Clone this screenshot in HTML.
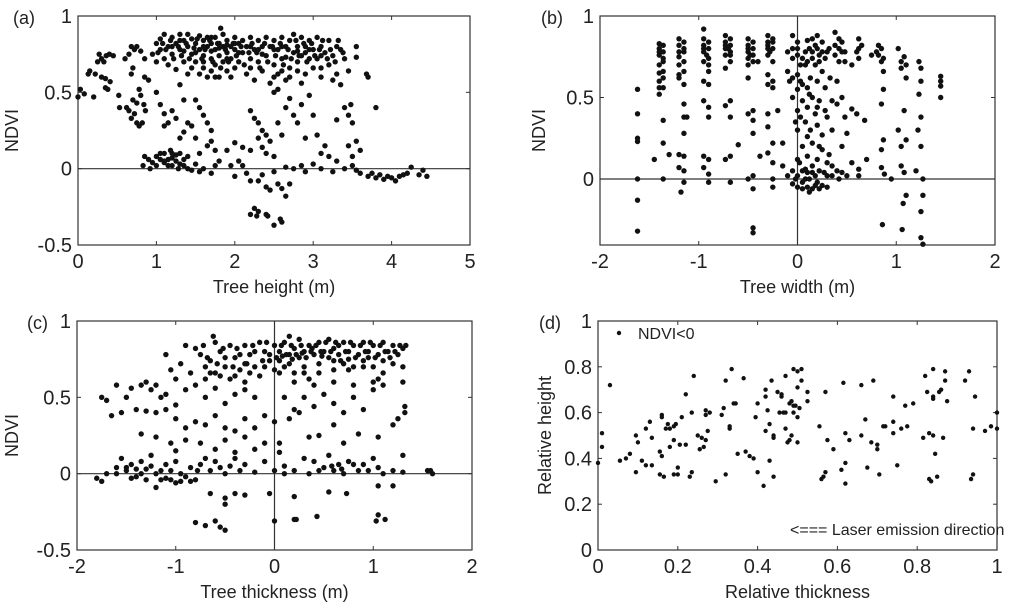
<!DOCTYPE html>
<html><head><meta charset="utf-8"><style>
html,body{margin:0;padding:0;background:#fff;}
svg{display:block;font-family:"Liberation Sans",Arial,sans-serif;}
</style></head><body>
<svg id="fig" width="1024" height="614" viewBox="0 0 1024 614" xmlns="http://www.w3.org/2000/svg"></svg>
<script>
// ---- Panel (a): tree height vs NDVI ----
const ptsA = [[0,0.47],[0.03,0.52],[0.08,0.49],[0.2,0.47],[0.13,0.62],[0.15,0.64],[0.22,0.62],[0.25,0.7],[0.27,0.75],[0.3,0.72],[0.33,0.7],[0.36,0.74],[0.4,0.75],[0.45,0.74],[0.35,0.53],[0.38,0.52],[0.3,0.6],[0.35,0.59],[0.41,0.57],[0.52,0.48],[0.53,0.4],[0.6,0.72],[0.65,0.75],[0.68,0.8],[0.72,0.78],[0.75,0.8],[0.8,0.77],[0.85,0.72],[0.7,0.66],[0.68,0.62],[0.62,0.4],[0.65,0.38],[0.68,0.33],[0.72,0.36],[0.75,0.3],[0.78,0.28],[0.82,0.3],[0.7,0.45],[0.75,0.43],[0.8,0.48],[0.85,0.6],[0.9,0.58],[0.78,0.52],[0.84,0.42],[0.86,0.38],
[0.95,0.75],[1.0,0.7],[1.0,0.82],[1.05,0.85],[1.05,0.78],[1.1,0.88],[1.1,0.72],[1.15,0.8],[1.15,0.68],[1.2,0.86],[1.2,0.75],[1.25,0.82],[1.25,0.65],[1.3,0.88],[1.3,0.78],[1.35,0.7],[1.35,0.84],[1.4,0.8],[1.4,0.88],[1.45,0.75],[1.45,0.85],[1.5,0.82],[1.5,0.7],[1.55,0.87],[1.55,0.78],[1.6,0.84],[1.6,0.66],[1.6,0.74],[1.65,0.8],[1.65,0.6],[1.65,0.86],[1.7,0.72],[1.7,0.82],[1.7,0.64],[1.75,0.78],[1.75,0.86],[1.75,0.68],[1.8,0.82],[1.8,0.6],[1.8,0.74],[1.85,0.88],[1.85,0.7],[1.85,0.8],[1.9,0.76],[1.9,0.84],[1.9,0.64],[1.95,0.8],[1.95,0.72],[2.0,0.86],[2.0,0.78],[2.0,0.66],[2.05,0.82],[2.05,0.7],[2.1,0.76],[2.1,0.84],[2.15,0.8],[2.15,0.62],[2.2,0.86],[2.2,0.72],[2.25,0.78],[2.25,0.58],[2.3,0.84],[2.3,0.7],[2.35,0.8],[2.35,0.64],[2.4,0.86],[2.4,0.74],[2.45,0.8],[2.45,0.56],[2.5,0.84],[2.5,0.68],[2.55,0.78],[2.55,0.62],[2.6,0.86],[2.6,0.72],[2.65,0.8],[2.65,0.58],[2.7,0.84],[2.7,0.66],[2.75,0.76],[2.75,0.88],[2.8,0.8],[2.8,0.7],[2.85,0.86],[2.85,0.74],[2.9,0.8],[2.9,0.62],[2.95,0.84],[2.95,0.72],[3.0,0.78],[3.0,0.66],[3.05,0.86],[3.05,0.72],[3.1,0.8],[3.1,0.6],[3.15,0.76],[3.2,0.84],[3.2,0.68],[3.25,0.74],[3.3,0.8],[3.3,0.62],[3.35,0.78],[3.4,0.72],[3.25,0.58],[3.35,0.55],[3.55,0.8],[3.55,0.73],[3.45,0.64],[3.7,0.6],[3.68,0.62],[3.8,0.4],
[1.2,0.8],[1.35,0.77],[1.5,0.76],[1.6,0.8],[1.7,0.77],[1.8,0.79],[1.9,0.81],[2.05,0.76],[2.2,0.8],[2.35,0.75],[2.5,0.78],[2.65,0.73],[2.8,0.77],[2.95,0.78],[3.1,0.74],[1.45,0.66],[1.55,0.62],[1.75,0.6],[1.95,0.6],[2.6,0.64],[2.7,0.6],[2.85,0.56],[2.55,0.52],[2.5,0.5],
[1.0,0.5],[1.05,0.42],[1.1,0.36],[1.15,0.3],[1.1,0.28],[1.2,0.38],[1.25,0.33],[1.3,0.2],[1.35,0.24],[1.3,0.55],[1.35,0.45],[1.4,0.3],[1.45,0.28],[1.5,0.45],[1.55,0.4],[1.6,0.35],[1.65,0.3],[1.7,0.25],[1.75,0.12],[1.7,0.18],[1.2,0.1],[1.5,0.2],[1.55,0.1],[1.65,0.15],[1.9,0.12],[2.0,0.17],[2.05,0.05],[2.1,0.14],[2.2,0.38],[2.25,0.33],[2.3,0.3],[2.35,0.25],[2.2,0.12],[2.3,0.2],[2.35,0.14],[2.4,0.1],[2.45,0.18],[2.4,0.22],[2.5,0.08],[2.55,0.3],[2.6,0.22],[2.65,0.4],[2.7,0.46],[2.75,0.35],[2.8,0.3],[2.85,0.42],[2.9,0.2],[2.95,0.48],[3.0,0.35],[3.05,0.22],[3.1,0.1],[3.15,0.15],[3.2,0.08],[3.3,0.05],[3.4,0.4],[3.45,0.35],[3.5,0.3],[3.45,0.15],[3.5,0.08],[3.55,0.18],[3.6,0.12],[3.48,0.42],[3.3,0.32],
[0.83,0.02],[0.85,0.08],[0.9,0.06],[0.95,0.04],[1.0,0.08],[1.0,0.02],[1.05,0.06],[1.1,0.04],[1.1,0.1],[1.15,0.06],[1.2,0.02],[1.2,0.07],[1.25,0.05],[1.3,0.1],[1.3,0.03],[1.35,0.06],[1.4,0.0],[1.4,0.08],[1.45,-0.01],[1.5,0.03],[1.55,-0.02],[1.6,0.0],[1.7,-0.03],[1.75,0.02],[1.8,0.05],[1.95,0.02],[2.0,-0.05],[2.1,0.02],[2.15,-0.03],[2.2,-0.08],[2.3,-0.08],[2.35,-0.04],[2.4,-0.12],[2.45,-0.14],[2.5,-0.02],[2.55,-0.1],[2.6,-0.13],[2.65,-0.18],[2.7,-0.1],[2.65,0.01],[2.75,0.0],[2.85,0.02],[2.9,-0.02],[3.0,0.03],[3.1,0.0],[3.25,-0.02],[3.4,0.0],[3.5,0.02],[3.55,-0.01],[3.6,-0.03],[3.7,-0.05],[3.75,-0.03],[3.8,-0.06],[3.9,-0.07],[3.95,-0.05],[4.05,-0.08],[4.1,-0.05],[4.15,-0.04],[4.2,-0.03],[4.25,0.01],[4.35,-0.04],[4.4,-0.01],[4.45,-0.05],[3.85,-0.04],[4.0,-0.06],
[2.2,-0.3],[2.25,-0.26],[2.28,-0.31],[2.3,-0.28],[2.4,-0.3],[2.42,-0.31],[2.5,-0.37],[2.58,-0.33],[2.6,-0.35],[1.82,0.92]];
const ptsA2 = [[1.02,0.76],[1.08,0.82],[1.12,0.78],[1.18,0.84],[1.22,0.72],[1.28,0.8],[1.32,0.74],[1.38,0.82],[1.42,0.72],[1.48,0.79],[1.52,0.85],[1.58,0.72],[1.62,0.78],[1.68,0.84],[1.72,0.7],[1.78,0.82],[1.82,0.66],[1.88,0.78],[1.92,0.7],[1.98,0.82],[2.02,0.74],[2.08,0.8],[2.12,0.68],[2.18,0.76],[2.22,0.82],[2.28,0.76],[2.32,0.66],[2.38,0.82],[2.42,0.7],[2.48,0.8],[2.52,0.74],[2.58,0.82],[2.62,0.68],[2.68,0.78],[2.72,0.72],[2.78,0.84],[2.82,0.74],[2.88,0.82],[2.92,0.7],[2.98,0.82],[3.02,0.74],[3.08,0.78],[3.12,0.84],[3.18,0.72],[3.22,0.78],[3.28,0.7],[3.32,0.84],[3.38,0.76],[1.3,0.84],[1.6,0.7],[1.9,0.72],[2.2,0.66],[2.5,0.6],[2.8,0.64],[3.1,0.66],[1.4,0.62],[1.7,0.86],[2.0,0.82],[2.3,0.78],[2.6,0.8],[2.9,0.76],[1.1,0.05],[1.15,0.02],[1.25,0.09],[1.35,0.02],[1.05,0.1],[0.92,0.0],[1.28,0.0],[1.18,0.12]];

// ---- Panel (b): tree width vs NDVI ----
const ptsB = [[-1.62,0.55],[-1.62,0.4],[-1.62,0.25],[-1.62,0.23],[-1.62,0.0],[-1.62,-0.13],[-1.62,-0.32],
[-1.4,0.83],[-1.4,0.8],[-1.4,0.76],[-1.4,0.7],[-1.4,0.65],[-1.4,0.6],[-1.4,0.56],[-1.4,0.52],
[-1.36,0.82],[-1.36,0.78],[-1.36,0.72],[-1.36,0.66],[-1.36,0.62],[-1.36,0.56],[-1.36,0.36],[-1.36,0.22],[-1.36,0.0],[-1.45,0.12],[-1.3,0.15],
[-1.2,0.86],[-1.2,0.82],[-1.2,0.75],[-1.2,0.7],[-1.2,0.64],[-1.2,0.62],[-1.2,0.15],[-1.2,0.07],
[-1.15,0.84],[-1.15,0.78],[-1.15,0.72],[-1.15,0.66],[-1.15,0.58],[-1.15,0.46],[-1.15,0.38],[-1.15,0.28],[-1.15,0.14],[-1.15,0.05],[-1.15,-0.02],[-1.18,-0.08],[-1.12,0.38],
[-0.95,0.92],[-0.95,0.86],[-0.95,0.82],[-0.95,0.78],[-0.95,0.72],[-0.95,0.6],[-0.95,0.48],[-0.95,0.14],[-0.95,0.07],
[-0.9,0.84],[-0.9,0.8],[-0.9,0.74],[-0.9,0.66],[-0.9,0.58],[-0.9,0.44],[-0.9,0.38],[-0.9,0.12],[-0.9,0.03],[-0.9,-0.02],
[-0.73,0.88],[-0.73,0.84],[-0.73,0.8],[-0.73,0.76],[-0.73,0.68],[-0.73,0.45],[-0.73,0.12],
[-0.68,0.86],[-0.68,0.82],[-0.68,0.78],[-0.68,0.72],[-0.68,0.48],[-0.68,0.38],[-0.68,0.14],[-0.68,-0.02],
[-0.5,0.86],[-0.5,0.82],[-0.5,0.78],[-0.5,0.74],[-0.5,0.7],[-0.5,0.62],[-0.5,0.4],[-0.5,0.0],
[-0.45,0.84],[-0.45,0.8],[-0.45,0.72],[-0.45,0.42],[-0.45,0.36],[-0.45,0.28],[-0.45,0.02],[-0.45,-0.06],[-0.45,-0.3],[-0.45,-0.33],
[-0.3,0.88],[-0.3,0.84],[-0.3,0.8],[-0.3,0.76],[-0.3,0.64],[-0.3,0.58],[-0.3,0.4],[-0.3,0.32],[-0.3,0.16],
[-0.25,0.86],[-0.25,0.8],[-0.25,0.72],[-0.25,0.6],[-0.25,0.56],[-0.25,0.22],[-0.25,0.1],[-0.25,0.0],[-0.25,-0.05],
[-0.6,0.21],[-0.4,0.72],[-0.38,0.14],[-0.15,0.22],[-0.2,0.42],
[-0.1,0.78],[-0.1,0.66],[-0.08,0.6],[-0.05,0.88],[-0.05,0.74],[-0.05,0.5],[-0.05,0.05],[-0.05,-0.03],[0,0.84],[0,0.76],[0,0.64],[0,0.55],[0,0.42],[0,0.3],[0,0.12],[0,-0.05],[0.03,0.7],[0.03,0.6],[0.03,0.38],[0.05,0.48],[0.05,0.2],[0.05,0.05],[0.05,-0.02],[0.08,0.78],[0.08,0.35],[0.08,0.0],[0.1,0.85],[0.1,0.72],[0.1,0.56],[0.1,0.44],[0.1,0.14],[0.1,0.04],[0.1,-0.05],[0.13,0.62],[0.13,0.3],[0.15,0.86],[0.15,0.78],[0.15,0.5],[0.15,0.22],[0.15,0.08],[0.15,-0.06],[0.18,0.7],[0.18,0.4],[0.18,0.02],[0.2,0.88],[0.2,0.8],[0.2,0.6],[0.2,0.33],[0.2,0.12],[0.2,-0.02],[0.22,0.76],[0.22,0.48],[0.22,0.05],[0.25,0.84],[0.25,0.66],[0.25,0.27],[0.25,0.18],[0.25,-0.04],[0.28,0.56],[0.28,0.42],[0.3,0.78],[0.3,0.1],[0.3,0.02],[0.33,0.62],[0.35,0.48],[0.35,0.3],[0.38,0.9],[0.38,0.76],[0.4,0.6],[0.4,0.05],[0.42,0.86],[0.42,0.8],[0.42,0.72],[0.45,0.84],[0.45,0.5],[0.45,0.2],[0.45,0.04],[0.48,0.78],[0.48,0.38],[0.5,0.02],[0.55,0.43],[0.6,0.4],[0.62,0.86],[0.62,0.8],[0.62,0.74],[0.62,0.06],[0.62,0.02],[0.68,0.36],[0.7,0.12],[0.75,0.76],[0.55,0.7],[0.5,0.28],[0.55,0.1],[-0.02,0.0],[0.12,-0.08],[0.3,-0.05],[0.35,0.08],
[0.82,0.82],[0.82,0.76],[0.85,0.8],[0.85,0.72],[0.87,0.66],[0.87,0.55],[0.85,0.46],[0.87,0.24],[0.85,0.18],[0.85,0.07],[0.88,0.03],[0.86,-0.28],[0.95,0.0],
[1.02,0.8],[1.05,0.72],[1.05,0.68],[1.08,0.75],[1.1,0.62],[1.08,0.42],[1.02,0.3],[1.05,0.2],[1.1,0.24],[1.05,0.08],[1.08,0.04],[1.1,-0.1],[1.07,-0.15],[1.06,-0.31],
[1.23,0.72],[1.25,0.68],[1.25,0.6],[1.23,0.52],[1.25,0.38],[1.22,0.3],[1.25,0.2],[1.2,0.05],[1.27,0.0],[1.27,-0.1],[1.25,-0.2],[1.25,-0.36],[1.27,-0.4],
[1.45,0.63],[1.45,0.6],[1.45,0.57],[1.45,0.5]];
const ptsB2 = [[-1.4,0.78],[-1.36,0.74],[-1.2,0.78],[-1.15,0.8],[-0.95,0.8],[-0.92,0.76],[-0.9,0.7],[-0.73,0.82],[-0.7,0.8],[-0.68,0.76],[-0.5,0.8],[-0.48,0.76],[-0.45,0.76],[-0.3,0.82],[-0.28,0.78],[-0.25,0.84],[-0.05,0.8],[0.0,0.8],[0.05,0.74],[0.08,0.7],[0.12,0.8],[0.15,0.74],[0.18,0.82],[0.22,0.72],[0.25,0.78],[0.28,0.74],[0.32,0.8],[0.38,0.82],[0.45,0.78],[0.48,0.72],[0.6,0.78],[0.65,0.82],[0.8,0.78],[0.87,0.74],[1.1,0.7],[-0.05,0.62],[0.05,0.58],[0.12,0.52],[0.2,0.44],[0.3,0.38],[0.4,0.46],[-0.02,0.35],[0.1,0.26],[0.22,0.2],[0.32,0.15],[0.02,0.1],[0.08,0.06],[0.12,0.0],[0.18,-0.04],[0.22,-0.06],[0.27,0.04],[0.05,-0.06],[0.0,0.02],[0.15,0.04],[0.35,0.02],[0.42,0.0],[-0.1,0.02],[-0.15,0.08]];

// ---- Panel (c): tree thickness vs NDVI ----
const ptsC = [[-0.8,0.82],[-0.75,0.78],[-0.7,0.7],[-0.65,0.74],[-0.6,0.86],[-0.6,0.66],[-0.55,0.8],[-0.5,0.7],[-0.45,0.84],[-0.45,0.62],[-0.4,0.76],[-0.35,0.68],[-0.3,0.84],[-0.3,0.6],[-0.25,0.78],[-0.2,0.7],[-0.15,0.86],[-0.15,0.64],[-0.1,0.8],[-0.05,0.74],[0,0.84],[0,0.68],[0.05,0.8],[0.05,0.74],[0.1,0.86],[0.1,0.7],[0.15,0.9],[0.15,0.78],[0.2,0.82],[0.2,0.66],[0.25,0.76],[0.25,0.88],[0.3,0.8],[0.3,0.7],[0.35,0.84],[0.35,0.62],[0.4,0.78],[0.45,0.86],[0.45,0.72],[0.5,0.8],[0.55,0.76],[0.55,0.88],[0.6,0.82],[0.6,0.68],[0.65,0.78],[0.7,0.86],[0.7,0.72],[0.75,0.8],[0.8,0.84],[0.8,0.7],[0.85,0.78],[0.9,0.86],[0.9,0.74],[0.95,0.8],[1.0,0.84],[1.0,0.7],[1.05,0.78],[1.1,0.86],[1.1,0.74],[1.15,0.8],[1.2,0.84],[1.2,0.72],[1.25,0.78],[1.3,0.82],[1.33,0.84],[1.3,0.7],[-0.05,0.78],[0.08,0.77],[0.18,0.75],[0.28,0.79],[0.38,0.82],[0.48,0.77],[0.65,0.84],[0.75,0.75],[0.95,0.76],[-0.2,0.8],[-0.35,0.78],[-0.5,0.76],[-0.65,0.66],[-0.9,0.84],[-0.95,0.72],[-1.1,0.78],[-1.05,0.68],[-0.62,0.9],[1.3,0.6],[1.32,0.44],[1.32,0.4],[1.25,0.36],[1.2,0.32],[1.1,0.66],[1.05,0.62],
[-1.75,0.5],[-1.7,0.48],[-1.65,0.38],[-1.6,0.58],[-1.55,0.4],[-1.5,0.5],[-1.45,0.56],[-1.4,0.42],[-1.35,0.58],[-1.3,0.6],[-1.25,0.55],[-1.2,0.58],[-1.15,0.5],[-1.1,0.52],[-1.0,0.62],[-1.0,0.45],[-0.9,0.55],[-0.8,0.58],[-0.7,0.5],[-0.6,0.56],[-0.5,0.46],[-0.4,0.52],[-0.3,0.55],[-0.2,0.5],[-1.3,0.41],[-1.2,0.4],[-1.1,0.42],[-1.0,0.36],[-0.9,0.3],[-0.8,0.34],[-0.7,0.32],[-0.6,0.38],[-0.5,0.3],[-0.4,0.28],[-0.3,0.36],[-0.2,0.3],[-0.1,0.38],[0,0.34],[-1.35,0.26],[-1.2,0.24],[-1.05,0.2],[-1.0,0.15],[-0.9,0.22],[-0.75,0.2],[-0.6,0.16],[-0.5,0.22],[-0.4,0.14],[-0.3,0.24],[-0.2,0.16],[-0.1,0.2],[0.1,0.5],[0.2,0.42],[0.3,0.5],[0.4,0.44],[0.5,0.52],[0.6,0.46],[0.7,0.4],[0.8,0.5],[0.9,0.42],[1.0,0.55],[1.1,0.58],[0.15,0.36],[0.25,0.4],[0.35,0.24],[0.45,0.25],[0.6,0.32],[0.7,0.2],[0.85,0.26],[1.05,0.24],[0.05,0.2],[0.2,0.6],[0.4,0.58],[0.6,0.6],[0.8,0.58],[1.0,0.6],
[-1.8,-0.03],[-1.75,-0.05],[-1.7,0.0],[-1.6,0.04],[-1.55,0.1],[-1.5,0.02],[-1.45,0.06],[-1.4,-0.02],[-1.35,0.08],[-1.3,0.03],[-1.25,0.12],[-1.2,0.0],[-1.15,-0.04],[-1.1,0.06],[-1.1,-0.03],[-1.05,0.02],[-1.0,-0.06],[-0.95,-0.05],[-0.9,-0.02],[-0.85,0.04],[-0.8,-0.04],[-0.75,0.06],[-0.7,0.1],[-0.65,0.02],[-0.6,0.08],[-0.55,0.04],[-0.5,0.0],[-0.45,0.05],[-0.4,0.1],[-0.35,0.02],[-0.3,0.06],[-0.2,0.01],[-0.1,0.08],[0,0.02],[0.05,0.14],[0.1,0.0],[0.1,0.05],[0.2,0.02],[0.3,0.1],[0.35,0.0],[0.4,0.08],[0.5,0.04],[0.55,0.12],[0.6,0.02],[0.65,0.06],[0.7,0.0],[0.75,0.08],[0.85,0.02],[0.9,0.06],[1.0,0.1],[1.05,0.04],[1.1,0.0],[1.2,0.02],[1.3,0.01],[1.3,0.12],[1.55,0.02],[1.58,0.02],[1.6,0.0],[-1.2,-0.09],[-1.6,0.0],[-1.45,-0.03],[-1.0,0.08],
[-0.65,-0.13],[-0.5,-0.16],[-0.5,-0.2],[-0.4,-0.13],[-0.3,-0.14],[-0.05,-0.13],[0.2,-0.15],[0.55,-0.12],[0.73,-0.13],[1.05,-0.08],[1.2,-0.08],[-0.8,-0.32],[-0.7,-0.34],[-0.6,-0.31],[-0.55,-0.35],[-0.5,-0.37],[0,-0.31],[0.2,-0.3],[0.22,-0.3],[0.43,-0.28],[1.03,-0.31],[1.05,-0.27],[1.12,-0.3]];
const ptsC2 = [[-0.72,0.84],[-0.68,0.76],[-0.58,0.72],[-0.52,0.82],[-0.42,0.7],[-0.38,0.82],[-0.28,0.72],[-0.22,0.84],[-0.12,0.74],[-0.08,0.86],[0.02,0.76],[0.07,0.84],[0.12,0.78],[0.17,0.84],[0.22,0.78],[0.27,0.84],[0.32,0.76],[0.37,0.8],[0.42,0.84],[0.47,0.8],[0.52,0.86],[0.57,0.8],[0.62,0.86],[0.67,0.74],[0.72,0.8],[0.77,0.86],[0.82,0.76],[0.87,0.84],[0.92,0.8],[0.97,0.86],[1.02,0.76],[1.07,0.84],[1.12,0.8],[1.17,0.76],[1.22,0.8],[1.27,0.84],[-0.1,0.7],[0.05,0.66],[0.15,0.72],[0.3,0.66],[0.45,0.66],[0.6,0.74],[0.75,0.68],[0.9,0.7],[-0.25,0.66],[-0.4,0.64],[-0.55,0.64],[-0.7,0.62],[-0.85,0.66],[-0.3,0.72],[-1.5,0.04],[-1.4,0.03],[-1.3,-0.04],[-1.15,0.02],[-1.05,-0.04],[-0.95,0.0],[-0.85,-0.05],[-0.78,0.02],[-1.25,0.05],[-1.35,0.0],[0.45,0.02],[0.58,0.05],[0.68,0.03],[0.8,0.06],[0.95,0.02]];

// ---- Panel (d): relative thickness vs relative height (NDVI<0) ----
const ptsD = [[0.0,0.38],[0.01,0.51],[0.01,0.45],[0.03,0.72],[0.055,0.39],[0.07,0.4],[0.08,0.42],[0.095,0.5],[0.1,0.47],[0.095,0.34],[0.11,0.39],[0.12,0.37],[0.12,0.53],[0.13,0.56],[0.135,0.37],[0.135,0.49],[0.155,0.43],[0.16,0.41],[0.16,0.59],[0.16,0.58],[0.155,0.33],[0.165,0.32],[0.17,0.53],[0.18,0.53],[0.175,0.55],[0.18,0.45],[0.19,0.54],[0.195,0.55],[0.19,0.48],[0.19,0.33],[0.2,0.33],[0.2,0.36],[0.205,0.46],[0.21,0.58],[0.22,0.46],[0.22,0.68],[0.23,0.32],[0.235,0.34],[0.235,0.6],[0.24,0.76],[0.25,0.5],[0.26,0.49],[0.255,0.44],[0.265,0.45],[0.27,0.61],[0.27,0.59],[0.27,0.48],[0.275,0.52],[0.28,0.6],[0.295,0.3],[0.31,0.59],[0.315,0.62],[0.32,0.33],[0.32,0.74],[0.33,0.54],[0.33,0.53],[0.335,0.79],[0.34,0.64],[0.345,0.64],[0.35,0.42],[0.365,0.75],[0.37,0.43],[0.38,0.41],[0.39,0.4],[0.395,0.58],[0.4,0.64],[0.4,0.34],[0.415,0.28],[0.42,0.67],[0.42,0.7],[0.42,0.52],[0.425,0.61],[0.43,0.55],[0.43,0.39],[0.435,0.74],[0.44,0.5],[0.44,0.49],[0.44,0.32],[0.45,0.69],[0.455,0.6],[0.46,0.68],[0.46,0.67],[0.465,0.6],[0.47,0.6],[0.47,0.76],[0.47,0.53],[0.475,0.47],[0.48,0.48],[0.48,0.64],[0.485,0.5],[0.485,0.65],[0.49,0.6],[0.49,0.63],[0.49,0.79],[0.495,0.63],[0.5,0.78],[0.5,0.58],[0.5,0.71],[0.5,0.47],[0.505,0.62],[0.51,0.74],[0.51,0.79],[0.525,0.69],[0.525,0.65],[0.555,0.54],[0.56,0.31],[0.565,0.32],[0.57,0.34],[0.57,0.69],[0.575,0.48],[0.59,0.44],[0.61,0.35],[0.615,0.73],[0.62,0.38],[0.62,0.51],[0.62,0.29],[0.63,0.48],[0.66,0.72],[0.66,0.5],[0.67,0.57],[0.675,0.36],[0.685,0.47],[0.69,0.74],[0.7,0.46],[0.7,0.44],[0.705,0.33],[0.715,0.54],[0.72,0.54],[0.74,0.67],[0.74,0.51],[0.74,0.56],[0.75,0.37],[0.76,0.53],[0.77,0.63],[0.775,0.54],[0.79,0.64],[0.815,0.49],[0.82,0.76],[0.825,0.69],[0.83,0.51],[0.83,0.31],[0.835,0.3],[0.84,0.79],[0.84,0.67],[0.84,0.66],[0.84,0.5],[0.845,0.42],[0.85,0.32],[0.855,0.69],[0.86,0.7],[0.865,0.49],[0.87,0.74],[0.87,0.78],[0.875,0.65],[0.92,0.74],[0.93,0.78],[0.935,0.31],[0.94,0.33],[0.94,0.53],[0.945,0.67],[0.97,0.52],[0.985,0.54],[1.0,0.6],[1.0,0.53]];

const ticksAX = [0,1,2,3,4,5];
const ticksAY = [-0.5,0,0.5,1];
const ticksBX = [-2,-1,0,1,2];
const ticksBY = [0,0.5,1];
const ticksCX = [-2,-1,0,1,2];
const ticksCY = [-0.5,0,0.5,1];
const ticksDX = [0,0.2,0.4,0.6,0.8,1];
const ticksDY = [0,0.2,0.4,0.6,0.8,1];

const NS = "http://www.w3.org/2000/svg";
const svg = document.getElementById('fig');
function mk(tag, attrs, parent){
  const e = document.createElementNS(NS, tag);
  for (const k in attrs) e.setAttribute(k, attrs[k]);
  (parent||svg).appendChild(e);
  return e;
}
function panel(cfg){
  const g = mk('g', {});
  
  
  const sx = v => cfg.x0 + (v - cfg.xmin) / (cfg.xmax - cfg.xmin) * (cfg.x1 - cfg.x0);
  const sy = v => cfg.y0 - (v - cfg.ymin) / (cfg.ymax - cfg.ymin) * (cfg.y0 - cfg.y1);
  const left = cfg.x0, right = cfg.x1, top = sy(cfg.ymax), bot = sy(cfg.ymin);
  const box = mk('rect', {x:left, y:top, width:right-left, height:bot-top, fill:'none', stroke:'#333', 'stroke-width':1.2}, g);
  
  
  if (cfg.zeroH) {
    const l = mk('line', {x1:left, x2:right, y1:sy(0), y2:sy(0), stroke:'#333', 'stroke-width':1.2}, g);
    
    
  }
  if (cfg.zeroV) {
    const l = mk('line', {x1:sx(0), x2:sx(0), y1:top, y2:bot, stroke:'#333', 'stroke-width':1.2}, g);
    
    
  }
  cfg.tx.forEach(t => {
    const X = sx(t);
    mk('line', {x1:X, x2:X, y1:bot, y2:bot-4, stroke:'#333'}, g);
    mk('line', {x1:X, x2:X, y1:top, y2:top+4, stroke:'#333'}, g);
    const tl = mk('text', {x:X, y:bot+23, 'text-anchor':'middle', 'font-size':20, fill:'#222'}, g);
    tl.textContent = String(t);
    
    
  });
  cfg.ty.forEach(t => {
    const Y = sy(t);
    mk('line', {x1:left, x2:left+4, y1:Y, y2:Y, stroke:'#333'}, g);
    mk('line', {x1:right, x2:right-4, y1:Y, y2:Y, stroke:'#333'}, g);
    const tl = mk('text', {x:left-6, y:Y+7, 'text-anchor':'end', 'font-size':20, fill:'#222'}, g);
    tl.textContent = String(t);
    
    
  });
  const xl = mk('text', {x:(left+right)/2, y:bot+48, 'text-anchor':'middle', 'font-size':18, fill:'#222'}, g);
  xl.textContent = cfg.xlabel;
  
  
  const yc = (top+bot)/2, yx = cfg.ylx;
  const yl = mk('text', {x:yx, y:yc, 'text-anchor':'middle', 'font-size':18, fill:'#222', transform:`rotate(-90 ${yx} ${yc})`}, g);
  yl.textContent = cfg.ylabel;
  
  
  const pl = mk('text', {x:cfg.plx, y:top+8, 'font-size':18, fill:'#222'}, g);
  pl.textContent = cfg.tag;
  
  
  cfg.pts.forEach(p => {
    const c = mk('circle', {cx:sx(p[0]), cy:sy(p[1]), r:cfg.r, fill:'#111'}, g);
    
    
  });
  return {g, sx, sy};
}
panel({name:'panel-a', tag:'(a)', x0:78, x1:470, xmin:0, xmax:5, y0:245, y1:16, ymin:-0.5, ymax:1, tx:ticksAX, ty:ticksAY, xlabel:'Tree height (m)', ylabel:'NDVI', ylx:18, plx:13, pts:ptsA.concat(ptsA2), zeroH:true, r:2.7});
panel({name:'panel-b', tag:'(b)', x0:600, x1:995, xmin:-2, xmax:2, y0:245, y1:16, ymin:-0.405, ymax:1, tx:ticksBX, ty:ticksBY, xlabel:'Tree width (m)', ylabel:'NDVI', ylx:545, plx:541, pts:ptsB.concat(ptsB2), zeroH:true, zeroV:true, r:2.7});
panel({name:'panel-c', tag:'(c)', x0:77, x1:472, xmin:-2, xmax:2, y0:550, y1:321, ymin:-0.5, ymax:1, tx:ticksCX, ty:ticksCY, xlabel:'Tree thickness (m)', ylabel:'NDVI', ylx:18, plx:27, pts:ptsC.concat(ptsC2), zeroH:true, zeroV:true, r:2.7});
panel({name:'panel-d', tag:'(d)', x0:598, x1:997, xmin:0, xmax:1, y0:550, y1:321, ymin:0, ymax:1, tx:ticksDX, ty:ticksDY, xlabel:'Relative thickness', ylabel:'Relative height', ylx:551, plx:539, pts:ptsD, r:2.2});
const lg = mk('g', {});


mk('circle', {cx:619, cy:333, r:2.2, fill:'#111'}, lg);
const lt = mk('text', {x:638, y:339, 'font-size':16, fill:'#222'}, lg);
lt.textContent = 'NDVI<0';


const ann = mk('text', {x:790, y:535, 'font-size':16, fill:'#222'});
ann.setAttribute('xml:space', 'preserve');
ann.textContent = '<===  Laser emission direction';


</script>
</body></html>
